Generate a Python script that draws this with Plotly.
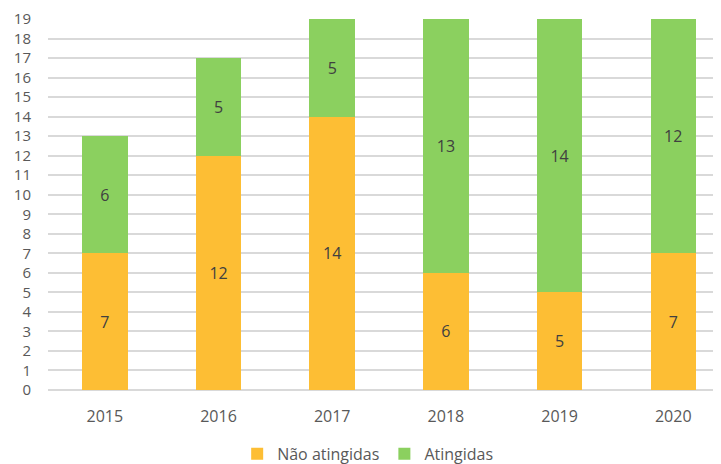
import plotly.graph_objects as go

years = ["2015", "2016", "2017", "2018", "2019", "2020"]
nao_atingidas = [7, 12, 14, 6, 5, 7]
atingidas = [6, 5, 5, 13, 14, 12]
y_ticks = list(range(0, 20))

font_family = "Open Sans, Liberation Sans, sans-serif"
fs = 16

fig = go.Figure()
fig.add_trace(go.Bar(
    x=years, y=nao_atingidas, name="Não atingidas",
    marker=dict(color="#FDBE34", line=dict(width=0)),
    text=nao_atingidas, textposition="inside", insidetextanchor="middle",
    textangle=0, constraintext="none",
    textfont=dict(color="#404040", size=fs, family=font_family),
    width=0.4,
))
fig.add_trace(go.Bar(
    x=years, y=atingidas, name="Atingidas",
    marker=dict(color="#8BD05F", line=dict(width=0)),
    text=atingidas, textposition="inside", insidetextanchor="middle",
    textangle=0, constraintext="none",
    textfont=dict(color="#404040", size=fs, family=font_family),
    width=0.4,
))

fig.update_layout(
    barmode="stack",
    width=713, height=456,
    margin=dict(l=40, r=0, t=11, b=74, autoexpand=False),
    plot_bgcolor="white", paper_bgcolor="white",
    font=dict(family=font_family, color="#595959", size=fs),
    xaxis=dict(
        type="category", range=[-0.5, 5.42], automargin=False,
        showgrid=False, showline=False, ticks="", ticklabelstandoff=15,
        tickfont=dict(size=fs, color="#595959"),
    ),
    yaxis=dict(
        range=[0, 19], tickvals=y_ticks, ticktext=[str(v) for v in y_ticks],
        automargin=False,
        showgrid=True, gridcolor="#D9D9D9", gridwidth=1.5,
        zeroline=True, zerolinecolor="#D9D9D9", zerolinewidth=1.5,
        showline=False, ticks="", ticklabelstandoff=16,
        tickfont=dict(size=15, color="#595959"),
    ),
    legend=dict(
        orientation="h", x=0.475, xanchor="center", y=-0.172, yanchor="middle",
        font=dict(size=fs, color="#595959"), traceorder="normal",
        itemwidth=30,
    ),
    showlegend=True,
)

fig.write_html("out.html")
